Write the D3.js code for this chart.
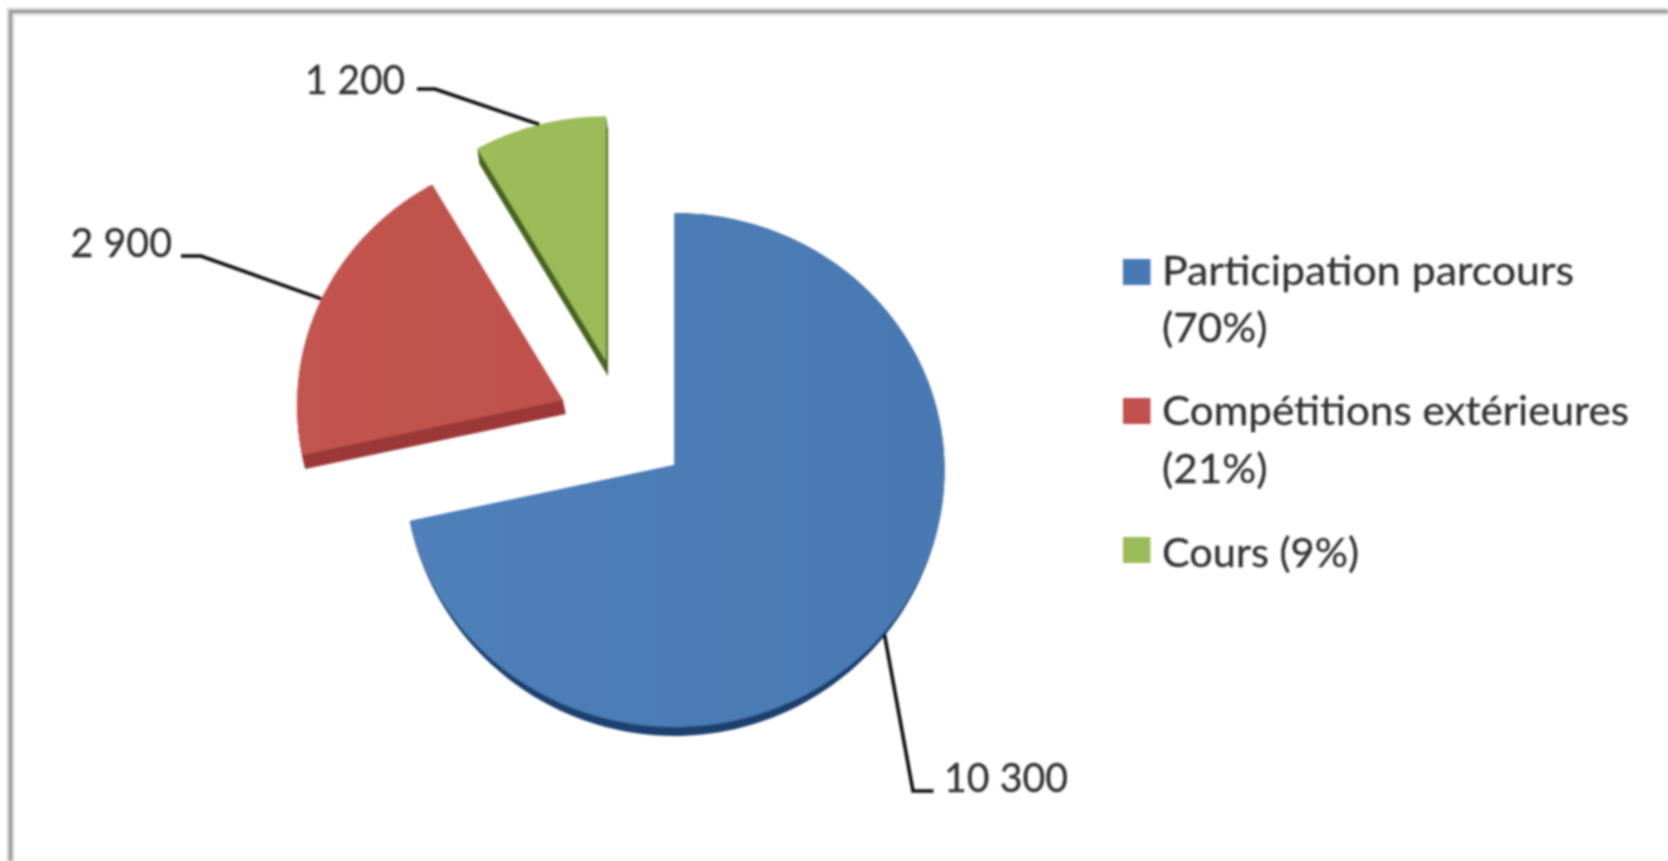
<!DOCTYPE html>
<html>
<head>
<meta charset="utf-8">
<script src="https://cdn.jsdelivr.net/npm/d3@7"></script>
<style>
html,body{margin:0;padding:0;background:#fff;overflow:hidden}
svg{display:block}
text{font-family:Lato,"Noto Sans",sans-serif;fill:#333;stroke:#333;stroke-width:.3px}
</style>
</head>
<body>
<script>
// ---- data ----
const categories = ["Participation parcours", "Compétitions extérieures", "Cours"];
const values = [10300, 2900, 1200];
const valueLabels = ["10 300", "2 900", "1 200"];
const legendLines = [["Participation parcours", "(70%)"], ["Compétitions extérieures", "(21%)"], ["Cours (9%)"]];

// ---- styles & layout ----
const colors = ["#4979b2", "#c0514e", "#9bbb59"];
const colorsLight = ["#4f80b9", "#c2544f", "#9dbc5a"];
const colorsDark = ["#1f416f", "#9c3a38", "#4a6623"];
const W = 1668, H = 861;
const apex = [[674.5, 465], [563, 400], [606, 361]];   // where each exploded slice's point sits
const radii = [270, 266, 262];
const depth = [[0, 9], [3, 14], [2, 15]];
const sideTaper = [1.6, 0, 0];                          // >0: side height fades towards the slice's flanks
const anchorScale = [0.985, 1, 1];
const labelLayout = [
  {x: 944, y: 792, w: 124, elbow: [913, 791], stub: [933.5, 791]},
  {x: 70.5, y: 257, w: 101.5, elbow: [201, 256], stub: [181, 256]},
  {x: 305, y: 94, w: 100, elbow: [435, 89], stub: [417, 89]}
];
const legendLayout = [
  {sy: 259, lines: [[285, 412], [342, 105.5]]},
  {sy: 398, lines: [[425, 467], [483, 105.5]]},
  {sy: 537, lines: [[567, 197]]}
];
const fontSize = 40;

const svg = d3.select("body").append("svg").attr("width", W).attr("height", H);
const defs = svg.append("defs");
defs.append("filter").attr("id", "soft").attr("x", "-5%").attr("y", "-5%").attr("width", "110%").attr("height", "110%")
  .append("feGaussianBlur").attr("stdDeviation", 1);
colors.forEach((c, i) => {
  const g = defs.append("linearGradient").attr("id", "grad" + i);
  g.append("stop").attr("offset", "0%").attr("stop-color", colorsLight[i]);
  g.append("stop").attr("offset", "100%").attr("stop-color", c);
});

const root = svg.append("g").attr("filter", "url(#soft)");

// frame (top and left rules only)
root.append("path").attr("d", `M10.5 ${H}V11.5H${W}`).attr("fill", "none").attr("stroke", "#e0e0e0").attr("stroke-width", 8);
root.append("path").attr("d", `M10.5 ${H}V11.5H${W}`).attr("fill", "none").attr("stroke", "#999").attr("stroke-width", 3.5);

// ---- pie ----
const pie = d3.pie().sort(null).startAngle(0).endAngle(2 * Math.PI);
const arcs = pie(values);

// Tilted-plane projection of a polar point around a slice's apex
const tiltK = 0.9514, tiltP = 7.2e-5;
function project(i, angle, r) {
  const X = r * Math.sin(angle), Y = -r * Math.cos(angle);
  const f = 1 / (1 - tiltP * Y);
  return [apex[i][0] + X * f, apex[i][1] + tiltK * Y * f];
}
const line = d3.line();
function sliceSamples(d) {
  const n = 160, a = d3.scaleLinear().domain([0, n]).range([d.startAngle, d.endAngle]);
  return d3.range(n + 1).map(k => a(k));
}
function slicePath(d, i) {
  return line([apex[i], ...sliceSamples(d).map(t => project(i, t, radii[i]))]) + "Z";
}
// Tapered side wall: the rim drops most at the front of the pie and not at all at its flanks
function taperedSide(d, i) {
  const pts = sliceSamples(d).map(t => {
    const p = project(i, t, radii[i]);
    return [p[0], p[1] + depth[i][1] * Math.pow(Math.max(0, -Math.cos(t)), sideTaper[i])];
  });
  return line([apex[i], ...pts]) + "Z";
}

arcs.forEach((d, i) => {
  const g = root.append("g");
  if (sideTaper[i] > 0) {
    g.append("path").attr("d", taperedSide(d, i)).attr("fill", colorsDark[i]);
  } else {
    const steps = Math.ceil(depth[i][1]);
    d3.range(steps, 0, -1).forEach(s => {
      g.append("path").attr("d", slicePath(d, i))
        .attr("transform", `translate(${depth[i][0] * s / steps},${depth[i][1] * s / steps})`)
        .attr("fill", colorsDark[i]);
    });
  }
  g.append("path").attr("d", slicePath(d, i)).attr("fill", `url(#grad${i})`);
});

// ---- leader lines & value labels ----
arcs.forEach((d, i) => {
  const mid = (d.startAngle + d.endAngle) / 2;
  const p = project(i, mid, radii[i] * anchorScale[i]);
  const L = labelLayout[i];
  root.append("path")
    .attr("d", line([[p[0], p[1] + (sideTaper[i] > 0 ? depth[i][1] : 0)], L.elbow, L.stub]))
    .attr("fill", "none").attr("stroke", "#111").attr("stroke-width", 3.6);
  root.append("text").attr("x", L.x).attr("y", L.y)
    .attr("font-size", fontSize)
    .attr("textLength", L.w).attr("lengthAdjust", "spacingAndGlyphs")
    .text(valueLabels[i]);
});

// ---- legend ----
categories.forEach((c, i) => {
  const L = legendLayout[i];
  root.append("rect").attr("x", 1123).attr("y", L.sy).attr("width", 27.5).attr("height", 26).attr("fill", colors[i]);
  legendLines[i].forEach((t, j) => {
    root.append("text").attr("x", 1162).attr("y", L.lines[j][0])
      .attr("font-size", fontSize)
      .attr("textLength", L.lines[j][1]).attr("lengthAdjust", "spacingAndGlyphs")
      .text(t);
  });
});
</script>
</body>
</html>
